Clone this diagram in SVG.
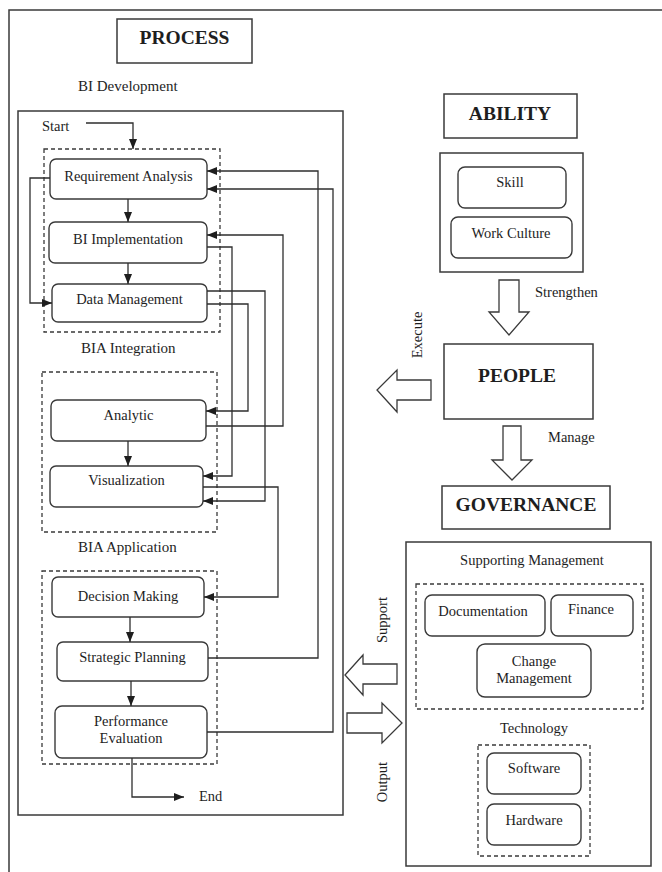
<svg xmlns="http://www.w3.org/2000/svg" width="662" height="872" viewBox="0 0 662 872">
  <style>
    text { font-family: "Liberation Serif", "Times New Roman", serif; fill: #1e1e1e; font-size: 14.5px; }
    .title { font-size: 19.5px; font-weight: bold; text-anchor: middle; }
    .mid { text-anchor: middle; }
    .sec { font-size: 15px; }
    .box { fill: #fff; stroke: #3a3a3a; stroke-width: 1.5; }
    .node { fill: #fff; stroke: #3a3a3a; stroke-width: 1.4; }
    .dash { fill: none; stroke: #3a3a3a; stroke-width: 1.3; stroke-dasharray: 4 3; }
    .frame { fill: none; stroke: #3a3a3a; stroke-width: 1.5; }
    .conn { fill: none; stroke: #2e2e2e; stroke-width: 1.3; marker-end: url(#tip); }
    .block { fill: #fff; stroke: #3a3a3a; stroke-width: 1.3; stroke-linejoin: miter; }
  </style>
  <defs>
    <marker id="tip" markerUnits="userSpaceOnUse" markerWidth="10" markerHeight="10" viewBox="0 0 10 10" refX="10" refY="5" orient="auto">
      <path d="M0,1 L10,5 L0,9 z" fill="#1e1e1e"/>
    </marker>
  </defs>

  <rect width="662" height="872" fill="#fff"/>

  <!-- outer frame -->
  <path class="frame" d="M9,872 V10 H662"/>

  <!-- PROCESS column -->
  <g id="process-title">
    <rect class="box" x="117" y="19" width="135" height="44"/>
    <text class="title" x="184.5" y="44">PROCESS</text>
  </g>
  <text id="label-bi-development" class="sec" x="78" y="91">BI Development</text>
  <rect id="process-panel" class="box" x="18" y="111" width="325" height="704" fill="none"/>

  <text id="start" x="42" y="131">Start</text>
  <text id="end" x="199" y="801">End</text>

  <g id="group-bi-development">
    <rect class="dash" x="44" y="149" width="176" height="183"/>
  </g>
  <g id="node-requirement-analysis">
    <rect class="node" x="50" y="159" width="157" height="40" rx="6"/>
    <text class="mid" x="128.5" y="181">Requirement Analysis</text>
  </g>
  <g id="node-bi-implementation">
    <rect class="node" x="49" y="222" width="158" height="41" rx="6"/>
    <text class="mid" x="128" y="244">BI Implementation</text>
  </g>
  <g id="node-data-management">
    <rect class="node" x="52" y="284" width="155" height="38" rx="6"/>
    <text class="mid" x="129.5" y="304">Data Management</text>
  </g>

  <text id="label-bia-integration" class="sec" x="81" y="353">BIA Integration</text>
  <g id="group-bia-integration">
    <rect class="dash" x="42" y="372" width="175" height="160"/>
  </g>
  <g id="node-analytic">
    <rect class="node" x="51" y="400" width="155" height="41" rx="6"/>
    <text class="mid" x="128.5" y="420">Analytic</text>
  </g>
  <g id="node-visualization">
    <rect class="node" x="50" y="466" width="153" height="41" rx="6"/>
    <text class="mid" x="126.5" y="485">Visualization</text>
  </g>

  <text id="label-bia-application" class="sec" x="78" y="552">BIA Application</text>
  <g id="group-bia-application">
    <rect class="dash" x="42" y="571" width="175" height="193"/>
  </g>
  <g id="node-decision-making">
    <rect class="node" x="52" y="577" width="152" height="40" rx="6"/>
    <text class="mid" x="128" y="601">Decision Making</text>
  </g>
  <g id="node-strategic-planning">
    <rect class="node" x="57" y="642" width="151" height="39" rx="6"/>
    <text class="mid" x="132.5" y="662">Strategic Planning</text>
  </g>
  <g id="node-performance-evaluation">
    <rect class="node" x="55" y="706" width="152" height="52" rx="7"/>
    <text class="mid" x="131" y="726">Performance</text>
    <text class="mid" x="131" y="743">Evaluation</text>
  </g>

  <!-- ABILITY / PEOPLE / GOVERNANCE column -->
  <g id="ability-title">
    <rect class="box" x="444" y="94" width="133" height="44"/>
    <text class="title" x="510" y="120">ABILITY</text>
  </g>
  <g id="ability-panel">
    <rect class="box" x="440" y="153" width="143" height="119"/>
  </g>
  <g id="node-skill">
    <rect class="node" x="458" y="167" width="108" height="41" rx="7"/>
    <text class="mid" x="510" y="187">Skill</text>
  </g>
  <g id="node-work-culture">
    <rect class="node" x="451" y="217" width="121" height="41" rx="7"/>
    <text class="mid" x="511" y="238">Work Culture</text>
  </g>

  <g id="people">
    <rect class="box" x="444" y="344" width="149" height="75"/>
    <text class="title" x="517" y="382">PEOPLE</text>
  </g>

  <g id="governance-title">
    <rect class="box" x="442" y="486" width="168" height="43"/>
    <text class="title" x="526" y="511">GOVERNANCE</text>
  </g>
  <g id="governance-panel">
    <rect class="box" x="406" y="542" width="245" height="324"/>
    <text class="mid" x="532" y="565">Supporting Management</text>
    <rect class="dash" x="416" y="584" width="227" height="125"/>
    <text class="mid" x="534" y="733">Technology</text>
    <rect class="dash" x="478" y="745" width="112" height="111"/>
  </g>
  <g id="node-documentation">
    <rect class="node" x="425" y="595" width="120" height="41" rx="7"/>
    <text class="mid" x="483" y="616">Documentation</text>
  </g>
  <g id="node-finance">
    <rect class="node" x="551" y="595" width="82" height="41" rx="7"/>
    <text class="mid" x="591" y="614">Finance</text>
  </g>
  <g id="node-change-management">
    <rect class="node" x="477" y="644" width="114" height="53" rx="8"/>
    <text class="mid" x="534" y="666">Change</text>
    <text class="mid" x="534" y="683">Management</text>
  </g>
  <g id="node-software">
    <rect class="node" x="487" y="753" width="94" height="41" rx="7"/>
    <text class="mid" x="534" y="773">Software</text>
  </g>
  <g id="node-hardware">
    <rect class="node" x="487" y="804" width="94" height="41" rx="7"/>
    <text class="mid" x="534" y="825">Hardware</text>
  </g>

  <!-- block arrows between the pillars -->
  <g id="arrow-strengthen">
    <polygon class="block" points="499,280 519,280 519,312 529,312 509,335 489,312 499,312"/>
    <text x="535" y="297">Strengthen</text>
  </g>
  <g id="arrow-manage">
    <polygon class="block" points="503,426 521,426 521,460 532,460 512,480 492,460 503,460"/>
    <text x="548" y="442">Manage</text>
  </g>
  <g id="arrow-execute">
    <polygon class="block" points="431,380 431,400 397,400 397,412 377,390 397,370 397,380"/>
    <text class="mid" transform="translate(422,335) rotate(-90)">Execute</text>
  </g>
  <g id="arrow-support">
    <polygon class="block" points="397,664 397,684 363,684 363,695 345,675 363,655 363,664"/>
    <text class="mid" transform="translate(387,620) rotate(-90)">Support</text>
  </g>
  <g id="arrow-output">
    <polygon class="block" points="347,713 382,713 382,703 402,723 382,743 382,733 347,733"/>
    <text class="mid" transform="translate(387,782) rotate(-90)">Output</text>
  </g>

  <!-- process flow connectors -->
  <g id="connectors">
    <path class="conn" d="M86,123 H133 V149"/>
    <path class="conn" d="M128,199 V222"/>
    <path class="conn" d="M128,263 V284"/>
    <path class="conn" d="M128,441 V466"/>
    <path class="conn" d="M130,617 V642"/>
    <path class="conn" d="M131,681 V706"/>
    <path class="conn" d="M132,758 V797 H184"/>
    <path class="conn" d="M50,178 H30 V303 H52"/>
    <path class="conn" d="M208,658 H318 V171 H207"/>
    <path class="conn" d="M207,732 H333 V189 H207"/>
    <path class="conn" d="M207,247 H232 V476 H203"/>
    <path class="conn" d="M206,426 H283 V235 H207"/>
    <path class="conn" d="M207,304 H248 V411 H206"/>
    <path class="conn" d="M207,291 H265 V501 H203"/>
    <path class="conn" d="M203,487 H278 V597 H204"/>
  </g>
</svg>
